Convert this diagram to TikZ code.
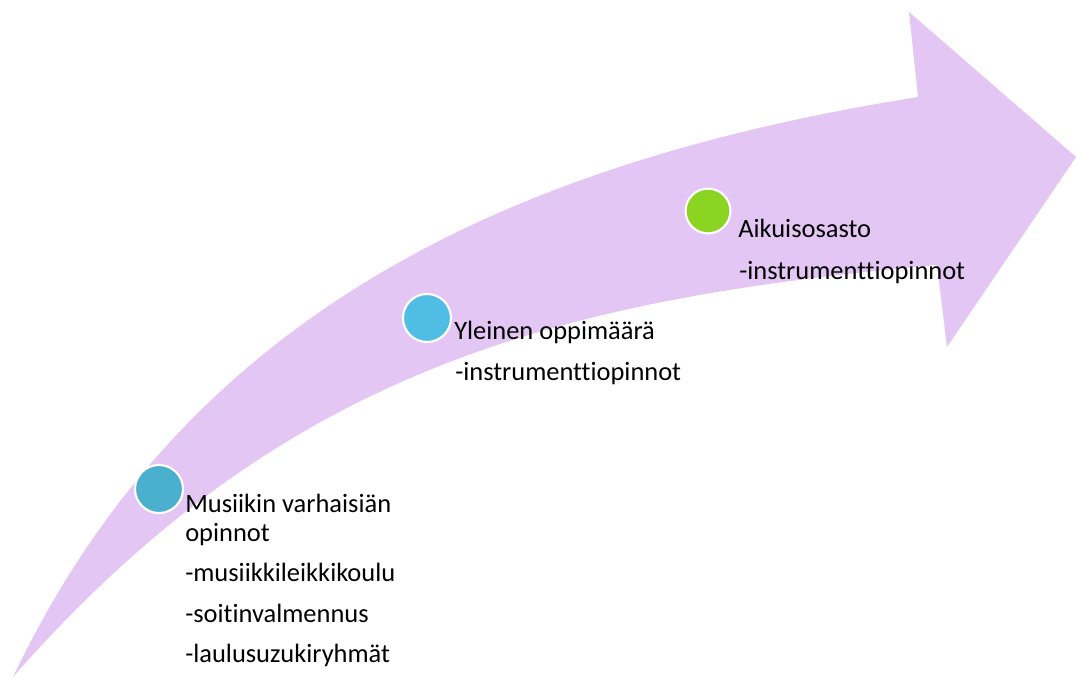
\documentclass[tikz,border=0pt]{standalone}
\usepackage{fontspec}
\setmainfont[Ligatures=NoCommon]{Carlito}
\usepackage{tikz}
\definecolor{NuoliColor}{RGB}{228,198,244}
\definecolor{AlkuColor}{RGB}{75,176,206}
\definecolor{YleinenColor}{RGB}{80,190,228}
\definecolor{AikuisColor}{RGB}{140,212,34}
\tikzset{pallo/.style={draw=white, circle, line width=1.5pt, inner sep=0pt, minimum size=1.2cm},
rivi/.style={anchor=base west, inner sep=0pt, font=\fontsize{18.8}{22}\selectfont}}

\begin{document}
\begin{tikzpicture}[x=0.025cm,y=-0.025cm]
\useasboundingbox (0,0) rectangle (1076,677);

%%Arrow
\coordinate (hanta) at (13,677);
\coordinate (ylakolo) at (918,97);
\coordinate (ylakarki) at (909,12);
\coordinate (karki) at (1076,157);
\coordinate (alakarki) at (947,347);
\coordinate (alakolo) at (937,265);
\fill[NuoliColor] (hanta) .. controls (183,320) and (498,164) .. (ylakolo)
 -- (ylakarki) -- (karki) -- (alakarki) -- (alakolo)
 .. controls (557,299) and (283,369) .. (hanta) -- cycle;

%%Stages
\node[pallo, fill=AlkuColor] (vaihe1) at (159,489) {};
\node[pallo, fill=YleinenColor] (vaihe2) at (427,318) {};
\node[pallo, fill=AikuisColor, minimum size=1.12cm] (vaihe3) at (708,211) {};

\node[rivi] (v1a) at (185,512) {Musiikin varhaisiän};
\node[rivi] (v1b) at (185,541) {opinnot};
\node[rivi] (v1c) at (185,581) {-musiikkileikkikoulu};
\node[rivi] (v1d) at (185,622) {-soitinvalmennus};
\node[rivi] (v1e) at (185,662) {-laulusuzukiryhmät};

\node[rivi] (v2a) at (454,339) {Yleinen oppimäärä};
\node[rivi] (v2b) at (455,380) {-instrumenttiopinnot};

\node[rivi] (v3a) at (738,237) {Aikuisosasto};
\node[rivi] (v3b) at (739,279) {-instrumenttiopinnot};

\end{tikzpicture}
\end{document}
